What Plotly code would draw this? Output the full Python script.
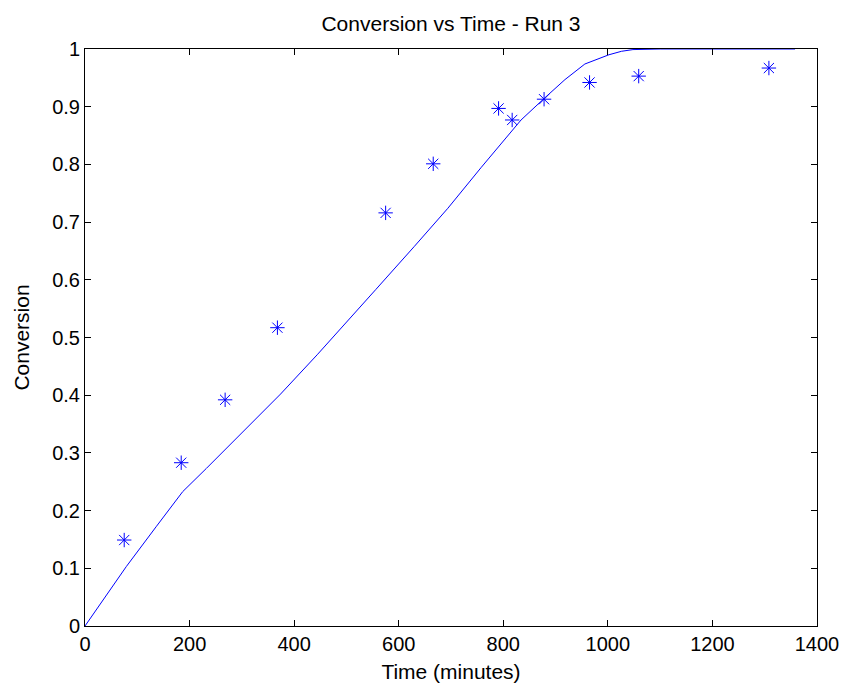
import plotly.graph_objects as go

# Experimental data
time_data = [75, 184, 268, 368, 575, 666, 791, 817, 878, 965, 1059, 1308]
conv_data = [0.149, 0.283, 0.392, 0.517, 0.716, 0.801, 0.897, 0.877, 0.913, 0.942, 0.953, 0.967]

# Model curve
time_model = [0, 40, 79, 136, 187, 232, 288, 374, 444, 489, 556, 630, 694, 758,
              818, 834, 879, 918, 956, 1002, 1026, 1048, 1100, 1200, 1358]
conv_model = [0, 0.051, 0.103, 0.172, 0.233, 0.273, 0.324, 0.402, 0.470, 0.516,
              0.583, 0.658, 0.724, 0.795, 0.860, 0.877, 0.915, 0.947, 0.974,
              0.990, 0.996, 0.999, 1.0, 1.0, 1.0]

x_ticks = [0, 200, 400, 600, 800, 1000, 1200, 1400]
y_ticks = [0, 0.1, 0.2, 0.3, 0.4, 0.5, 0.6, 0.7, 0.8, 0.9, 1]
y_tick_text = ["0", "0.1", "0.2", "0.3", "0.4", "0.5", "0.6", "0.7", "0.8", "0.9", "1"]

FONT = "Liberation Sans, Arial, sans-serif"
BLUE = "rgb(0,0,255)"

fig = go.Figure()
fig.add_trace(go.Scatter(
    x=time_data, y=conv_data, mode="markers",
    marker=dict(symbol="asterisk-open", size=12, color=BLUE,
                line=dict(color=BLUE, width=1)),
    showlegend=False, cliponaxis=False,
))
fig.add_trace(go.Scatter(
    x=time_model, y=conv_model, mode="lines",
    line=dict(color=BLUE, width=1),
    showlegend=False,
))

axis_common = dict(
    showline=True, linecolor="black", linewidth=1, mirror="ticks",
    ticks="inside", ticklen=6, tickcolor="black", tickwidth=1,
    showgrid=False, zeroline=False, automargin=False,
    tickfont=dict(family=FONT, size=20, color="black"),
)

fig.update_layout(
    width=844, height=686,
    margin=dict(l=85, r=27, t=49, b=60),
    paper_bgcolor="white", plot_bgcolor="white",
    title=dict(text="Conversion vs Time - Run 3", x=0.5, xref="paper",
               y=1 - 24 / 686, yref="container", yanchor="middle",
               font=dict(family=FONT, size=21, color="black")),
    xaxis=dict(range=[0, 1400], tickvals=x_ticks, ticktext=[str(v) for v in x_ticks],
               title=dict(text="Time (minutes)", standoff=10,
                          font=dict(family=FONT, size=21, color="black")),
               **axis_common),
    yaxis=dict(range=[0, 1], tickvals=y_ticks, ticktext=y_tick_text,
               title=dict(text="Conversion", standoff=16,
                          font=dict(family=FONT, size=21, color="black")),
               **axis_common),
)

fig.write_html("out.html")
